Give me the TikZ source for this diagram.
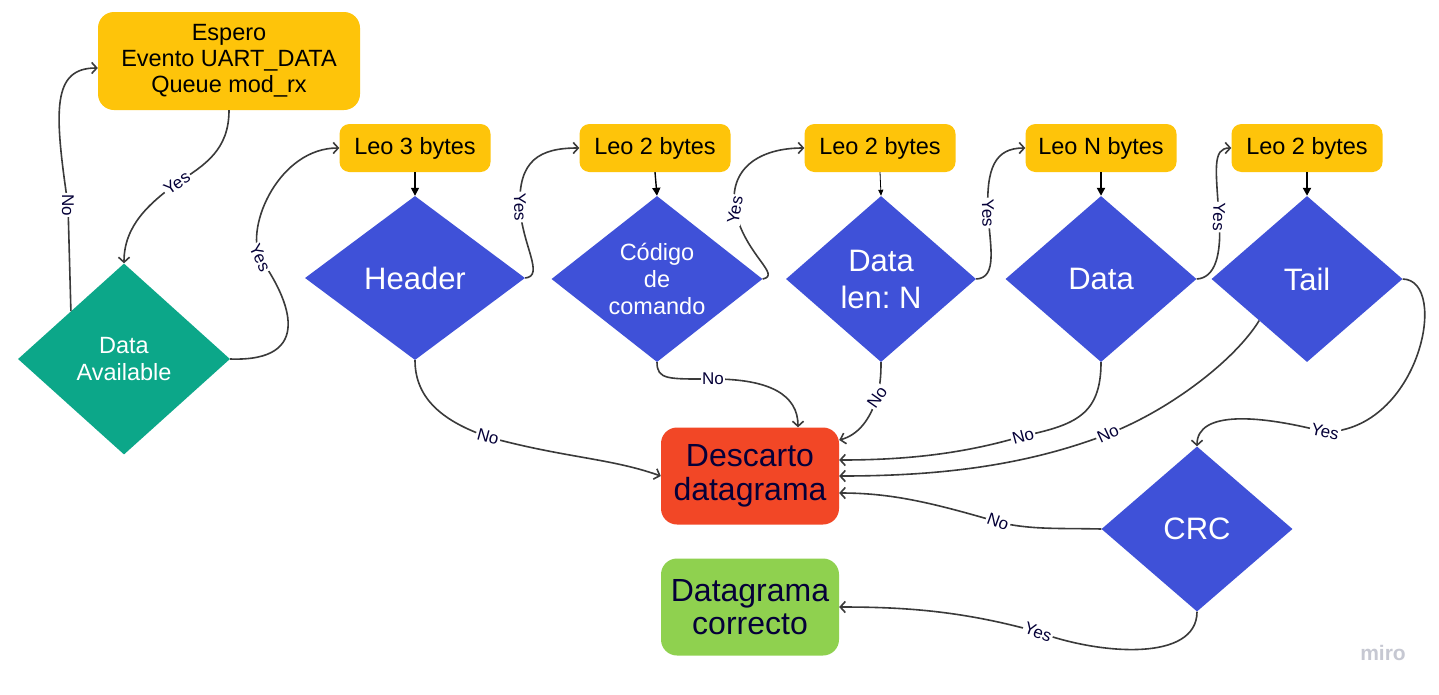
\documentclass[tikz,border=0pt]{standalone}
\usepackage{fontspec}
\setmainfont{Liberation Sans}
\usetikzlibrary{shapes.geometric,arrows.meta,calc}
\frenchspacing
\definecolor{myyellow}{HTML}{FEC40A}
\definecolor{myteal}{HTML}{0CA789}
\definecolor{myblue}{HTML}{3F51D8}
\definecolor{myred}{HTML}{F24726}
\definecolor{mygreen}{HTML}{8FD14F}
\definecolor{conncol}{HTML}{3A3A3A}
\definecolor{lblcol}{HTML}{050038}
\definecolor{mirocol}{HTML}{C6C8D2}
\tikzset{
  ybox/.style={fill=myyellow, rounded corners=10pt, minimum width=151pt, minimum height=48pt,
    inner sep=0pt, text=black, font=\fontsize{23.5}{26}\selectfont},
  rbox/.style={rounded corners=16pt, minimum width=178pt, minimum height=97pt, inner sep=0pt,
    align=center, font=\fontsize{32}{33.5}\selectfont},
  dia/.style={shape=diamond, fill=myblue, inner sep=0pt},
  dsmall/.style={text=white, align=center, font=\fontsize{23.5}{27}\selectfont},
  dbig/.style={text=white, align=center, font=\fontsize{31}{37}\selectfont},
  conn/.style={draw=conncol, line width=1.6pt,
    -{Straight Barb[length=5pt,width=11pt]}},
  lbl/.style={fill=white, text=lblcol, font=\fontsize{17}{18}\selectfont, inner sep=1.5pt},
  dnarrow/.style={draw=black, line width=1.4pt, -{Triangle[length=8pt,width=8pt]}}
}
\begin{document}
\begin{tikzpicture}[x=1pt,y=-1pt]
\useasboundingbox[fill=white] (0,0) rectangle (1439,694);

% boxes
\node[ybox, minimum width=262pt, minimum height=98pt, rounded corners=16pt, align=center] (esp) at (229,61)
  {Espero\\Evento UART\_DATA\\Queue mod\_rx};
\node[ybox] (leo1) at (415,148) {Leo 3 bytes};
\node[ybox] (leo2) at (655,148) {Leo 2 bytes};
\node[ybox] (leo3) at (880,148) {Leo 2 bytes};
\node[ybox] (leoN) at (1101,148) {Leo N bytes};
\node[ybox] (leo5) at (1307,148) {Leo 2 bytes};

\node[rbox, fill=myred, text=lblcol] (desc) at (750,476) {Descarto\\datagrama};
\node[rbox, fill=mygreen, text=lblcol] (corr) at (750,607) {Datagrama\\correcto};

% diamonds
\node[dia, fill=myteal, minimum width=212pt, minimum height=191pt] (da) at (124,359) {};
\node[dsmall] (daT) at (da) {Data\\Available};
\node[dia, minimum width=220pt, minimum height=164pt] (hdr) at (415,278) {};
\node[dbig] (hdrT) at (hdr) {Header};
\node[dia, minimum width=211pt, minimum height=166pt] (cod) at (657,279) {};
\node[dsmall] (codT) at (cod) {Código\\de\\comando};
\node[dia, minimum width=190pt, minimum height=166pt] (dl) at (881,279) {};
\node[dbig] (dlT) at (dl) {Data\\len: N};
\node[dia, minimum width=191pt, minimum height=166pt] (dat) at (1101,279) {};
\node[dbig] (datT) at (dat) {Data};
\node[dia, minimum width=191pt, minimum height=166pt] (tail) at (1307,279) {};
\node[dbig] (tailT) at (tail) {Tail};
\node[dia, minimum width=191pt, minimum height=165pt] (crc) at (1197,529) {};
\node[dbig] (crcT) at (crc) {CRC};

\node[text=mirocol, font=\fontsize{21}{22}\selectfont\bfseries] (miro) at (1383,653) {miro};

% straight arrows
\draw[dnarrow] (leo1.south) -- (hdr.north);
\draw[dnarrow] (leo2.south) -- (cod.north);
\draw[dnarrow, line width=0.8pt, -{Triangle[length=6pt,width=5pt]}] (leo3.south) -- (dl.north);
\draw[dnarrow, line width=2pt] (leoN.south) -- (dat.north);
\draw[dnarrow, line width=2pt] (leo5.south) -- (tail.north);

% connectors
\draw[conn] (da.north west) -- (68,205) node[lbl, rotate=-90] (l1) {No}
  .. controls (54,110) and (52,68) .. ([yshift=-7pt]esp.west);
\draw[conn] (esp.south) .. controls (229,150) and (205,165) .. (177,183) node[lbl, rotate=35] (l2) {Yes}
  .. controls (150,203) and (124,225) .. (da.north);
\draw[conn] (da.east) .. controls (315,362) and (290,300) .. (260,258) node[lbl, rotate=-65] (l3) {Yes}
  .. controls (245,225) and (280,148) .. (leo1.west);
\draw[conn] (hdr.east) .. controls (545,276) and (522,245) .. (520,207) node[lbl, rotate=-88] (l4) {Yes}
  .. controls (518,160) and (540,148) .. (leo2.west);
\draw[conn] (cod.east) .. controls (782,275) and (745,255) .. (735,210) node[lbl, rotate=80] (l5) {Yes}
  .. controls (728,168) and (760,148) .. (leo3.west);
\draw[conn] (dl.east) .. controls (998,278) and (990,245) .. (988,213) node[lbl, rotate=-88] (l6) {Yes}
  .. controls (986,168) and (995,148) .. (leoN.west);
\draw[conn] (dat.east) .. controls (1215,278) and (1222,255) .. (1219,217) node[lbl, rotate=-92] (l7) {Yes}
  .. controls (1216,170) and (1212,148) .. (leo5.west);
\draw[conn] (hdr.south) .. controls (415,400) and (445,422) .. (488,437) node[lbl, rotate=-15] (l8) {No}
  .. controls (565,458) and (610,458) .. (desc.west);
\draw[conn] (cod.south) .. controls (657,380) and (668,379) .. (713,379) node[lbl] (l9) {No}
  .. controls (770,379) and (798,395) .. ($(desc.north)+(48,0)$);
\draw[conn] (dl.south) .. controls (881,378) and (880,385) .. (877,397) node[lbl, rotate=55] (l10) {No}
  .. controls (870,420) and (858,435) .. ($(desc.east)+(0,-36)$);
\draw[conn] (dat.south) .. controls (1101,415) and (1075,425) .. (1023,436) node[lbl, rotate=15] (l11) {No}
  .. controls (960,455) and (900,460) .. ($(desc.east)+(0,-16)$);
\draw[conn] (tail.south west) .. controls (1235,360) and (1170,410) .. (1108,434) node[lbl, rotate=25] (l12) {No}
  .. controls (1020,468) and (930,476) .. (desc.east);
\draw[conn] (tail.east) .. controls (1450,280) and (1420,430) .. (1325,432) node[lbl, rotate=-12] (l13) {Yes}
  .. controls (1260,415) and (1197,410) .. (crc.north);
\draw[conn] (crc.west) .. controls (1060,528) and (1030,530) .. (998,522) node[lbl, rotate=-20] (l14) {No}
  .. controls (930,502) and (890,493) .. ($(desc.east)+(0,17)$);
\draw[conn] (crc.south) .. controls (1197,662) and (1100,655) .. (1038,632) node[lbl, rotate=-20] (l15) {Yes}
  .. controls (960,610) and (900,607) .. (corr.east);
\end{tikzpicture}
\end{document}
